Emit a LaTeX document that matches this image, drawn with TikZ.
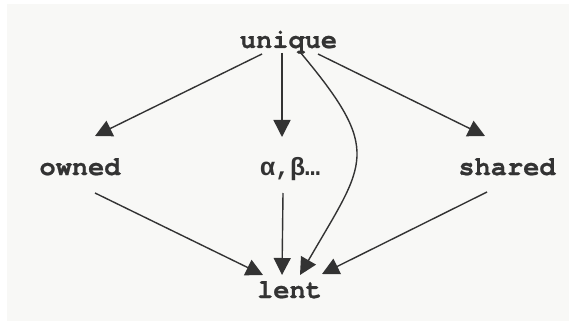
\documentclass[tikz,border=0pt]{standalone}
\usepackage{fontspec}
\newfontfamily\curfont{TeX Gyre Cursor}[BoldFeatures={FakeBold=0.8}]
\newfontfamily\greekmono{Liberation Mono}
\usetikzlibrary{arrows.meta,calc}
\definecolor{ink}{HTML}{333333}
\definecolor{bg}{HTML}{F8F8F6}
\tikzset{
  lbl/.style={font=\curfont\bfseries\fontsize{27}{27}\selectfont, text=ink, anchor=base, inner sep=0pt},
  arr/.style={draw=ink, line width=1.4pt, -{Triangle[length=17pt,width=17pt]}},
}
\begin{document}
\begin{tikzpicture}[x=1pt,y=1pt]
\useasboundingbox (0,0) rectangle (569,324);
\fill[white] (0,0) rectangle (569,324);
\fill[bg] (7,3) rectangle (569,320);
\node[lbl] (unique) at (288.5,276) {unique};
\node[lbl] (owned) at (80,149) {owned};
\node[lbl] (greek) at (290,149) {{\greekmono\bfseries\fontsize{25}{25}\selectfont α,β…}};
\node[lbl] (shared) at (507,149) {shared};
\node[lbl] (lent) at (289.5,26) {lent};
\draw[arr] ($(unique.base)+(-26.5,-6)$) -- ($(owned.base)+(15,39)$);
\draw[arr] ($(unique.base)+(-6.5,-5)$) -- ($(greek.base)+(-8,38)$);
\draw[arr] ($(unique.base)+(29.5,-6)$) -- ($(shared.base)+(-22,39)$);
\draw[arr] ($(unique.base)+(11.5,-4)$) to[out=-50,in=60,looseness=1.5] ($(lent.base)+(10.5,23)$);
\draw[arr] ($(owned.base)+(15,-18)$) -- ($(lent.base)+(-26.5,23)$);
\draw[arr] ($(greek.base)+(-7,-18)$) -- ($(lent.base)+(-7.5,23)$);
\draw[arr] ($(shared.base)+(-20,-17)$) -- ($(lent.base)+(32.5,24)$);
\end{tikzpicture}
\end{document}
